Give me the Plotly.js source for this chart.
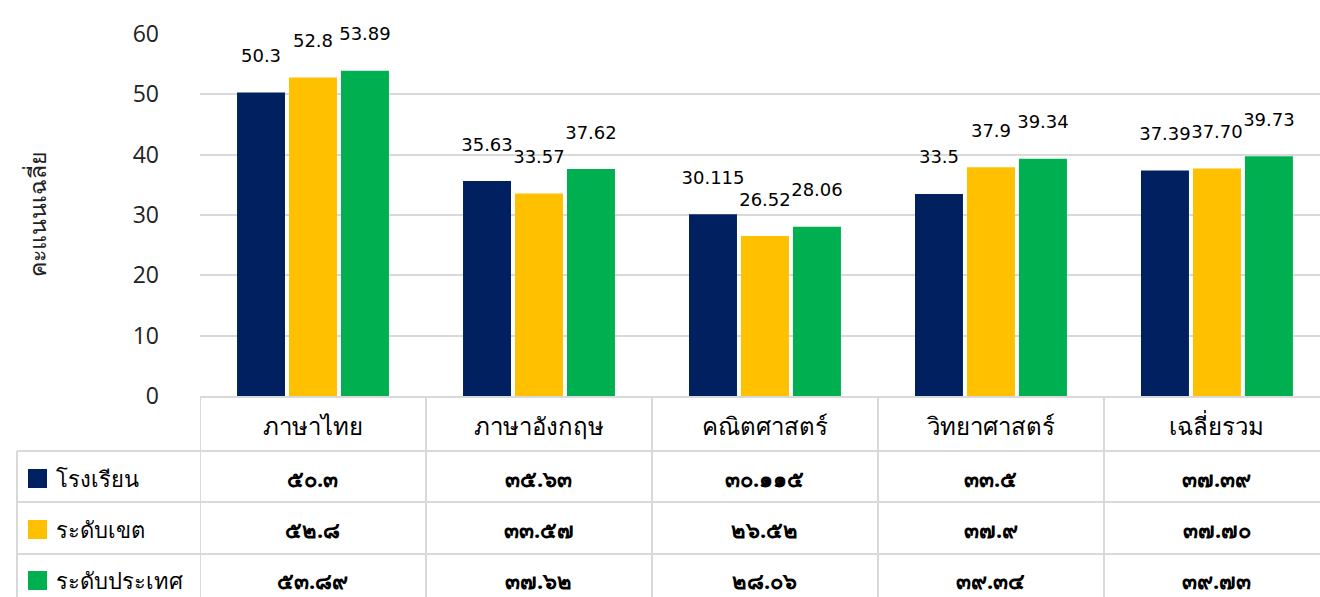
<!DOCTYPE html>
<html><head><meta charset="utf-8">
<script src="https://cdn.plot.ly/plotly-3.0.1.min.js"></script>
<style>html,body{margin:0;padding:0;background:#fff;overflow:hidden}</style>
</head>
<body><div id="chart" style="width:1320px;height:597px"></div>
<script>
const subjects = ["ภาษาไทย","ภาษาอังกฤษ","คณิตศาสตร์","วิทยาศาสตร์","เฉลี่ยรวม"];
const seriesNames = ["โรงเรียน","ระดับเขต","ระดับประเทศ"];
const schoolScores = [50.3, 35.63, 30.115, 33.5, 37.39];
const districtScores = [52.8, 33.57, 26.52, 37.9, 37.70];
const nationalScores = [53.89, 37.62, 28.06, 39.34, 39.73];
const schoolLabels = ["50.3","35.63","30.115","33.5","37.39"];
const districtLabels = ["52.8","33.57","26.52","37.9","37.70"];
const nationalLabels = ["53.89","37.62","28.06","39.34","39.73"];
const schoolThai = ["๕๐.๓","๓๕.๖๓","๓๐.๑๑๕","๓๓.๕","๓๗.๓๙"];
const districtThai = ["๕๒.๘","๓๓.๕๗","๒๖.๕๒","๓๗.๙","๓๗.๗๐"];
const nationalThai = ["๕๓.๘๙","๓๗.๖๒","๒๘.๐๖","๓๙.๓๔","๓๙.๗๓"];
const yTicks = [0, 10, 20, 30, 40, 50, 60];
const yTitle = "คะแนนเฉลี่ย";

const colors = ["#002060", "#FFC000", "#00B050"];
const valueSets = [schoolScores, districtScores, nationalScores];
const labelSets = [schoolLabels, districtLabels, nationalLabels];
const thaiSets = [schoolThai, districtThai, nationalThai];

const W = 1320, H = 597, L = 200, T = 34, PH = 362, PW = 1120;
const py = p => (T + PH - p) / PH;
const px = p => (p - L) / PW;
const FONT = 'Tahoma, "Noto Sans", "DejaVu Sans", sans-serif';
const gridC = "#d9d9d9";

const traces = valueSets.map((vals, j) => ({
  type: "bar",
  name: seriesNames[j],
  x: subjects,
  y: vals,
  text: labelSets[j],
  texttemplate: "%{text}<br> ",
  textposition: "outside",
  constraintext: "none",
  cliponaxis: false,
  textfont: {family: '"DejaVu Sans", sans-serif', size: 18, color: "#000"},
  marker: {color: colors[j]},
  hoverinfo: "x+y"
}));

const shapes = [];
const annotations = [];
const line = {color: gridC, width: 2};
shapes.push({type: "line", xref: "paper", yref: "paper", x0: 0, x1: 1, y0: py(397), y1: py(397), line});
[451, 502, 554].forEach(p => shapes.push({type: "line", xref: "paper", yref: "paper", x0: px(17), x1: 1, y0: py(p), y1: py(p), line}));
for (let i = 0; i < subjects.length; i++) {
  shapes.push({type: "line", xref: "x", yref: "paper", x0: i - 0.5, x1: i - 0.5, y0: py(397), y1: py(600), line});
}
shapes.push({type: "line", xref: "paper", yref: "paper", x0: px(17), x1: px(17), y0: py(451), y1: py(600), line});

subjects.forEach(s => annotations.push({
  xref: "x", yref: "paper", x: s, y: py(425), text: s, showarrow: false,
  xanchor: "center", yanchor: "middle", font: {family: FONT, size: 24, color: "#000"}
}));
const rowCenters = [478, 529, 580];
thaiSets.forEach((arr, j) => {
  arr.forEach((t, i) => annotations.push({
    xref: "x", yref: "paper", x: subjects[i], y: py(rowCenters[j]), text: "<b>" + t + "</b>",
    showarrow: false, xanchor: "center", yanchor: "middle",
    font: {family: FONT, size: 22, color: "#000"}
  }));
  shapes.push({type: "rect", xref: "paper", yref: "paper", x0: px(28), x1: px(47),
    y0: py(rowCenters[j] - 9), y1: py(rowCenters[j] + 10), line: {width: 0}, fillcolor: colors[j]});
  annotations.push({xref: "paper", yref: "paper", x: px(54), y: py(rowCenters[j]), text: seriesNames[j],
    showarrow: false, xanchor: "left", yanchor: "middle", font: {family: FONT, size: 22, color: "#000"}});
});
annotations.push({xref: "paper", yref: "paper", x: px(37), y: 0.5, text: yTitle, textangle: -90,
  showarrow: false, xanchor: "center", yanchor: "middle", font: {family: FONT, size: 23, color: "#222"}});

const layout = {
  width: W, height: H,
  margin: {l: L, r: 0, t: T, b: H - T - PH, pad: 0},
  paper_bgcolor: "#fff", plot_bgcolor: "#fff",
  showlegend: false,
  barmode: "group",
  bargap: 0.31,
  bargroupgap: 0.077,
  xaxis: {type: "category", range: [-0.5, 4.456], showticklabels: false, showgrid: false,
    zeroline: false, showline: false, fixedrange: true},
  yaxis: {range: [0, 60], tickvals: yTicks, ticktext: yTicks.map(String), showgrid: true,
    gridcolor: gridC, gridwidth: 2, zeroline: false, showline: false,
    ticklabelstandoff: 40, tickfont: {family: '"Open Sans", "DejaVu Sans", sans-serif', size: 23, color: "#222"},
    fixedrange: true},
  shapes, annotations
};
Plotly.newPlot("chart", traces, layout, {displayModeBar: false, staticPlot: true});
</script>
</body></html>
